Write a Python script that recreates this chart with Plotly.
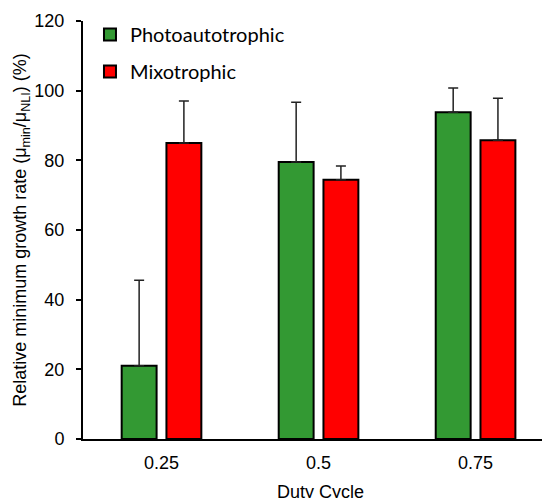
import plotly.graph_objects as go

categories = ["0.25", "0.5", "0.75"]
photo_values = [21.0, 79.5, 93.8]
photo_err = [24.6, 17.2, 7.0]
mixo_values = [85.0, 74.4, 85.8]
mixo_err = [12.0, 4.0, 12.0]
y_ticks = [0, 20, 40, 60, 80, 100, 120]

x_pos = list(range(len(categories)))

fig = go.Figure()
fig.add_trace(go.Bar(
    x=x_pos, y=photo_values, name="Photoautotrophic", legendgroup="a",
    marker=dict(color="#339933", line=dict(color="black", width=2)),
    error_y=dict(type="data", array=photo_err, arrayminus=[0] * 3, symmetric=False,
                 color="#222222", thickness=1.5, width=5),
))
fig.add_trace(go.Bar(
    x=x_pos, y=mixo_values, name="Mixotrophic", legendgroup="b",
    marker=dict(color="#FF0000", line=dict(color="black", width=2)),
    error_y=dict(type="data", array=mixo_err, arrayminus=[0] * 3, symmetric=False,
                 color="#222222", thickness=1.5, width=5),
))

fig.update_layout(
    width=550, height=498,
    margin=dict(l=75, r=0, t=13, b=67, autoexpand=False),
    paper_bgcolor="white", plot_bgcolor="white",
    barmode="group", bargap=0.43, bargroupgap=0.22,
    font=dict(family="Liberation Sans", size=18, color="black"),
    showlegend=True,
    legend=dict(x=0.0147, y=1.0144, xanchor="left", yanchor="top",
                font=dict(family="Lato", size=20, color="black"),
                traceorder="grouped", tracegroupgap=8, bgcolor="rgba(0,0,0,0)",
                itemwidth=30),
    xaxis=dict(
        tickmode="array", tickvals=x_pos, ticktext=categories,
        range=[-0.5, 2.525], showline=True, linewidth=2, linecolor="black",
        ticks="", showgrid=False, zeroline=False, automargin=False,
        ticklabelstandoff=6,
        tickfont=dict(family="Liberation Sans", size=18),
        title=dict(text="Duty Cycle", standoff=14, font=dict(family="Liberation Sans", size=18)),
    ),
    yaxis=dict(
        range=[0, 120], tickvals=y_ticks, showline=True, linewidth=2, linecolor="black",
        ticks="outside", ticklen=5, tickwidth=2, tickcolor="black",
        showgrid=False, zeroline=False, automargin=False,
        ticklabelstandoff=8,
        tickfont=dict(family="Liberation Sans", size=18),
        title=dict(text="Relative minimum growth rate (μ<sub>min</sub>/μ<sub>NLI</sub>) (%)",
                   standoff=3, font=dict(family="Liberation Sans", size=18)),
    ),
)

fig.write_html("out.html")
